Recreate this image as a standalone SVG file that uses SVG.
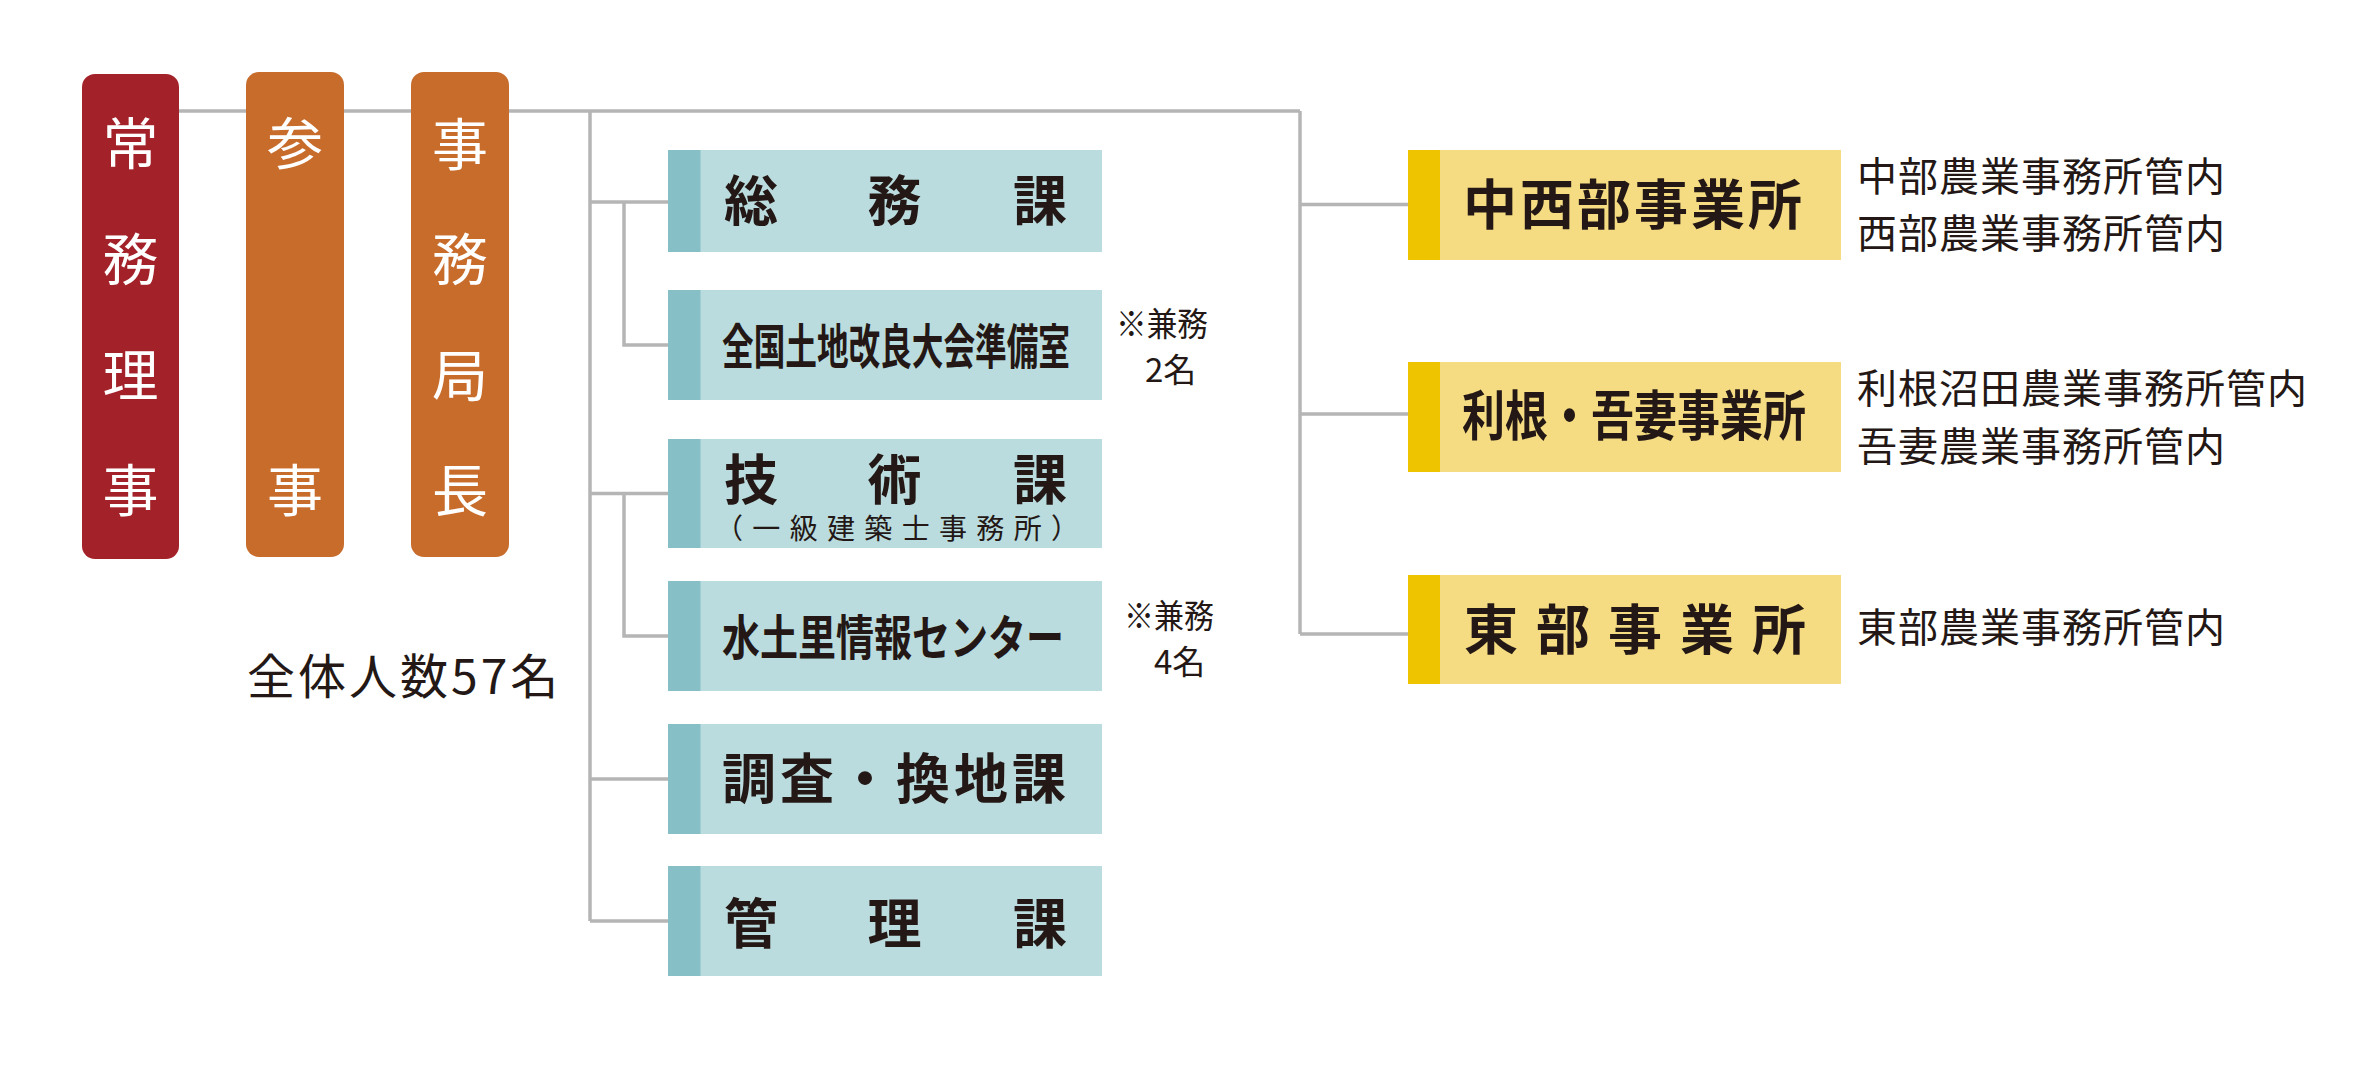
<svg xmlns="http://www.w3.org/2000/svg" width="2374" height="1075" viewBox="0 0 2374 1075">
<style>
.bg{fill:#ffffff}
.con{fill:none;stroke:#B5B5B5;stroke-width:3.5}
.red{fill:#A32128}
.ora{fill:#C86C2C}
.vt{font-family:"Noto Sans CJK JP","Noto Sans CJK SC",sans-serif;font-size:56px;fill:#ffffff;text-anchor:middle}
.bl{fill:#BBDCDE}
.bls{fill:#86BFC5}
.ye{fill:#F5DC82}
.yes{fill:#EEC400}
.lb{font-family:"Noto Sans CJK JP","Noto Sans CJK SC",sans-serif;font-weight:700;font-size:54px;fill:#231815}
.lbn{font-family:"Noto Sans CJK JP","Noto Sans CJK SC",sans-serif;font-weight:700;font-size:48px;fill:#231815}
.tx{font-family:"Noto Sans CJK JP","Noto Sans CJK SC",sans-serif;font-size:40px;fill:#231815}
.sm{font-family:"Noto Sans CJK JP","Noto Sans CJK SC",sans-serif;font-size:33px;fill:#231815}
.sub{font-family:"Noto Sans CJK JP","Noto Sans CJK SC",sans-serif;font-size:28px;fill:#231815}
.tot{font-family:"Noto Sans CJK JP","Noto Sans CJK SC",sans-serif;font-size:48px;fill:#231815}
</style>
<rect class="bg" x="0" y="0" width="2374" height="1075"/>
<g id="connectors">
<path class="con" d="M179 111 H1300"/>
<path class="con" d="M590 111 V921"/>
<path class="con" d="M1300 111 V634"/>
<path class="con" d="M590 202 H668"/>
<path class="con" d="M624 202 V345 H668"/>
<path class="con" d="M590 493.5 H668"/>
<path class="con" d="M624 493.5 V636 H668"/>
<path class="con" d="M590 779 H668"/>
<path class="con" d="M590 921 H668"/>
<path class="con" d="M1300 204.5 H1408"/>
<path class="con" d="M1300 414 H1408"/>
<path class="con" d="M1300 634 H1408"/>
</g>
<g id="jomu-riji">
<rect class="red" x="82" y="74" width="97" height="485" rx="13"/>
<text class="vt" x="130.5"><tspan x="130.5" y="164">常</tspan><tspan x="130.5" y="280">務</tspan><tspan x="130.5" y="396">理</tspan><tspan x="130.5" y="511">事</tspan></text>
</g>
<g id="sanji">
<rect class="ora" x="246" y="72" width="98" height="485" rx="13"/>
<text class="vt" x="295"><tspan x="295" y="164">参</tspan><tspan x="295" y="511">事</tspan></text>
</g>
<g id="jimukyokucho">
<rect class="ora" x="411" y="72" width="98" height="485" rx="13"/>
<text class="vt" x="460"><tspan x="460" y="165">事</tspan><tspan x="460" y="280">務</tspan><tspan x="460" y="396">局</tspan><tspan x="460" y="511">長</tspan></text>
</g>
<g id="total">
<text class="tot" x="247" y="694" letter-spacing="3">全体人数57名</text>
</g>
<g id="somuka">
<rect class="bl" x="668" y="150" width="434" height="102"/>
<rect class="bls" x="668" y="150" width="32.5" height="102"/>
<text class="lb" y="220.5" text-anchor="middle"><tspan x="751">総</tspan><tspan x="894.5">務</tspan><tspan x="1040">課</tspan></text>
</g>
<g id="zenkoku">
<rect class="bl" x="668" y="290" width="434" height="110"/>
<rect class="bls" x="668" y="290" width="32.5" height="110"/>
<text class="lbn" x="722" y="364" textLength="348" lengthAdjust="spacingAndGlyphs">全国土地改良大会準備室</text>
</g>
<g id="note1">
<text class="sm" x="1116" y="335.5" textLength="92" lengthAdjust="spacingAndGlyphs">※兼務</text>
<text class="sm" x="1145" y="381.5">2名</text>
</g>
<g id="gijutsuka">
<rect class="bl" x="668" y="439" width="434" height="109"/>
<rect class="bls" x="668" y="439" width="32.5" height="109"/>
<text class="lb" y="499.5" text-anchor="middle"><tspan x="751">技</tspan><tspan x="894.5">術</tspan><tspan x="1040">課</tspan></text>
<text class="sub" x="715" y="539" textLength="364" lengthAdjust="spacing">（一級建築士事務所）</text>
</g>
<g id="midori">
<rect class="bl" x="668" y="581" width="434" height="110"/>
<rect class="bls" x="668" y="581" width="32.5" height="110"/>
<text class="lbn" x="722" y="655" textLength="342" lengthAdjust="spacingAndGlyphs">水土里情報センター</text>
</g>
<g id="note2">
<text class="sm" x="1124" y="627.5" textLength="90" lengthAdjust="spacingAndGlyphs">※兼務</text>
<text class="sm" x="1154" y="673.5">4名</text>
</g>
<g id="chosa">
<rect class="bl" x="668" y="724" width="434" height="110"/>
<rect class="bls" x="668" y="724" width="32.5" height="110"/>
<text class="lb" x="722" y="798.5" letter-spacing="4">調査・換地課</text>
</g>
<g id="kanrika">
<rect class="bl" x="668" y="866" width="434" height="110"/>
<rect class="bls" x="668" y="866" width="32.5" height="110"/>
<text class="lb" y="943.5" text-anchor="middle"><tspan x="751">管</tspan><tspan x="894.5">理</tspan><tspan x="1040">課</tspan></text>
</g>
<g id="chuseibu">
<rect class="ye" x="1408" y="150" width="433" height="110"/>
<rect class="yes" x="1408" y="150" width="32" height="110"/>
<text class="lb" x="1463" y="225" letter-spacing="3">中西部事業所</text>
<text class="tx" x="1857" y="191" letter-spacing="1">中部農業事務所管内</text>
<text class="tx" x="1857" y="247.5" letter-spacing="1">西部農業事務所管内</text>
</g>
<g id="tone-agatsuma">
<rect class="ye" x="1408" y="362" width="433" height="110"/>
<rect class="yes" x="1408" y="362" width="32" height="110"/>
<text class="lb" x="1462" y="435.5" textLength="344" lengthAdjust="spacingAndGlyphs">利根・吾妻事業所</text>
<text class="tx" x="1857" y="403" letter-spacing="1">利根沼田農業事務所管内</text>
<text class="tx" x="1857" y="461" letter-spacing="1">吾妻農業事務所管内</text>
</g>
<g id="tobu">
<rect class="ye" x="1408" y="575" width="433" height="109"/>
<rect class="yes" x="1408" y="575" width="32" height="109"/>
<text class="lb" x="1464" y="649.5" letter-spacing="18">東部事業所</text>
<text class="tx" x="1857" y="642" letter-spacing="1">東部農業事務所管内</text>
</g>
</svg>
